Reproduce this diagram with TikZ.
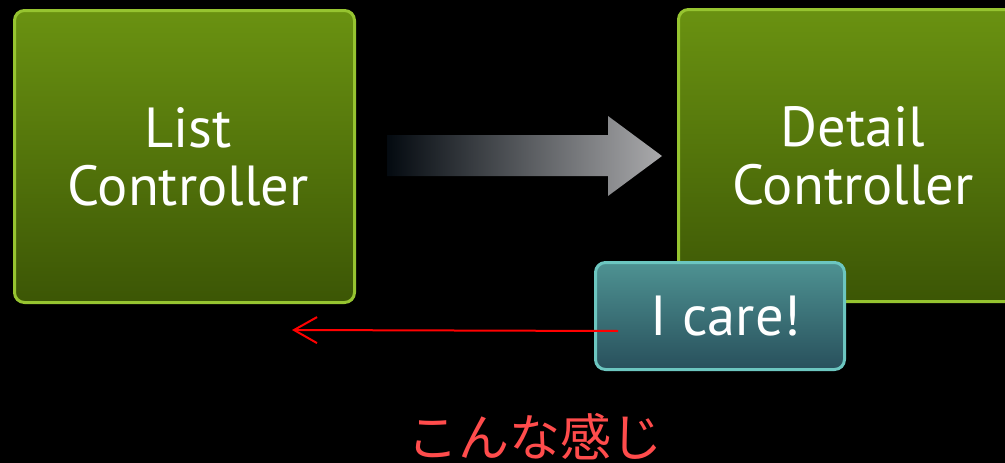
\documentclass[tikz,border=0pt]{standalone}
\usepackage{fontspec}
\setmainfont{PT Sans}
\newfontfamily\jpfont{Noto Sans CJK JP}
\usetikzlibrary{arrows.meta}
\definecolor{gborder}{RGB}{150,196,48}
\definecolor{gtop}{RGB}{106,146,17}
\definecolor{gbot}{RGB}{60,86,5}
\definecolor{tborder}{RGB}{108,198,192}
\definecolor{ttop}{RGB}{78,146,146}
\definecolor{tbot}{RGB}{40,80,92}
\definecolor{jpred}{RGB}{255,76,76}
\definecolor{arrgray}{RGB}{170,170,172}
\definecolor{arrdark}{RGB}{4,10,16}
\tikzset{
  greenbox/.style={draw=gborder, line width=3pt, rounded corners=10pt,
    top color=gtop, bottom color=gbot, minimum width=340pt, minimum height=292pt,
    inner sep=0pt, align=center, text=white, font=\fontsize{56.5}{58}\selectfont},
  tealbox/.style={draw=tborder, line width=3pt, rounded corners=10pt,
    top color=ttop, bottom color=tbot, minimum width=249pt, minimum height=107pt,
    inner sep=0pt, align=center, text=white, font=\fontsize{56.5}{58}\selectfont},
  redarrow/.style={red, line width=2pt, -{Straight Barb[length=23pt, width=26pt, line width=2pt]}},
  jptext/.style={text=jpred, font=\jpfont\fontsize{51}{51}\selectfont, inner sep=0pt}
}
\begin{document}
\begin{tikzpicture}[x=1pt, y=-1pt]
\fill[black] (0,0) rectangle (1005,463);
\useasboundingbox (0,0) rectangle (1005,463);
\clip (0,0) rectangle (1005,463);
\node[greenbox] (list) at (184.5,156.5) {\hspace*{7pt}List\\\hspace*{7pt}Controller};
\node[greenbox] (detail) at (848.5,155.5) {\hspace*{9pt}Detail\\\hspace*{9pt}Controller};
\shade[left color=arrdark, right color=arrgray]
  (387,135) -- (608,135) -- (608,116) -- (662,156) -- (608,196) -- (608,176) -- (387,176) -- cycle;
\node[tealbox] (care) at (720,316) {\hspace*{12pt}I care!};
\coordinate (start) at (618,331);
\coordinate (tip) at (292,330);
\draw[redarrow] (start) -- (tip);
\node[jptext] (jp) at (535,437) {こんな感じ};
\end{tikzpicture}
\end{document}
